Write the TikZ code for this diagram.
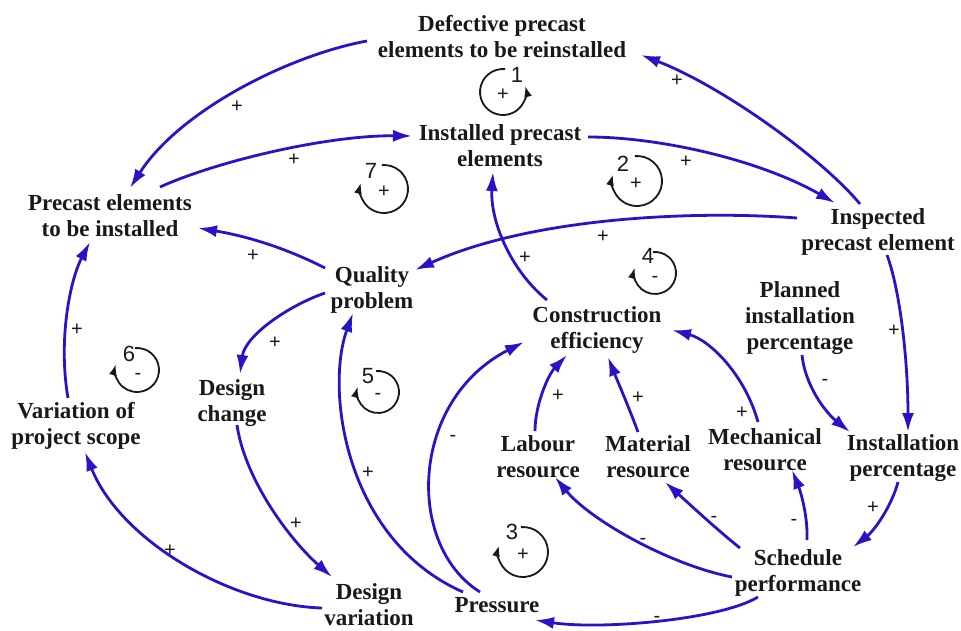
\documentclass[tikz,border=0pt]{standalone}
\usepackage{fontspec}
\setmainfont{Liberation Serif}
\newfontfamily\sgnfont{Liberation Sans}
\usetikzlibrary{arrows.meta}
\definecolor{lblue}{RGB}{40,20,200}
\definecolor{ink}{RGB}{25,25,25}
\begin{document}
\begin{tikzpicture}[x=1pt,y=-1pt,
 var/.style={font=\bfseries\fontsize{23}{26}\selectfont, align=center, inner sep=1pt, text=ink},
 lk/.style={draw=lblue, line width=2.8pt, -{Latex[length=19pt,width=12pt]}},
 sg/.style={font=\sgnfont\fontsize{20}{20}\selectfont, inner sep=0pt, text=ink},
 lp/.style={draw=ink, line width=1.8pt, -{Latex[length=11pt,width=8pt]}},
 lnum/.style={font=\sgnfont\fontsize{22}{22}\selectfont, inner sep=0pt, text=ink}]
\useasboundingbox[fill=white] (0,0) rectangle (961,630);

% variables
\node[var] (def)  at (502,37)  {Defective precast\\elements to be reinstalled};
\node[var] (inst) at (500,146) {Installed precast\\elements};
\node[var] (pre)  at (110,216) {Precast elements\\to be installed};
\node[var] (insp) at (878,232) {Inspected\\precast element};
\node[var] (qual) at (372,290) {Quality\\problem};
\node[var] (cons) at (597,330) {Construction\\efficiency};
\node[var] (plan) at (800,318) {Planned\\installation\\percentage};
\node[var] (dch)  at (232,403) {Design\\change};
\node[var] (vps)  at (76,426)  {Variation of\\project scope};
\node[var] (lab)  at (538,457) {Labour\\resource};
\node[var] (mat)  at (648,457) {Material\\resource};
\node[var] (mech) at (765,450) {Mechanical\\resource};
\node[var] (ip)   at (903,458) {Installation\\percentage};
\node[var] (sch)  at (798,573) {Schedule\\performance};
\node[var] (pres) at (497,605) {Pressure};
\node[var] (dvar) at (369,605) {Design\\variation};

% links
\draw[lk] ([shift={(-18,-28)}]insp.center) .. controls (822,158) and (722,86) .. ([shift={(139,18)}]def.center);
\draw[lk] ([shift={(-135,4)}]def.center) .. controls (290,55) and (180,110) .. ([shift={(20,-28)}]pre.center);
\draw[lk] ([shift={(50,-29)}]pre.center) .. controls (220,160) and (330,135) .. ([shift={(-88,-10)}]inst.center);
\draw[lk] ([shift={(88,-9)}]inst.center) .. controls (660,137) and (760,160) .. ([shift={(-43,-29)}]insp.center);
\draw[lk] ([shift={(-81,-14)}]insp.center) .. controls (690,210) and (530,218) .. ([shift={(43,-20)}]qual.center);
\draw[lk] ([shift={(-50,-30)}]cons.center) .. controls (510,270) and (490,220) .. ([shift={(-7,26)}]inst.center);
\draw[lk] ([shift={(-47,-22)}]qual.center) .. controls (280,245) and (240,235) .. ([shift={(88,12)}]pre.center);
\draw[lk] ([shift={(-47,3)}]qual.center) .. controls (290,305) and (245,335) .. ([shift={(8,-29)}]dch.center);
\draw[lk] ([shift={(5,22)}]dch.center) .. controls (245,480) and (290,540) .. ([shift={(-37,-28)}]dvar.center);
\draw[lk] ([shift={(-47,3)}]dvar.center) .. controls (230,605) and (120,540) .. ([shift={(9,26)}]vps.center);
\draw[lk] ([shift={(-8,-28)}]vps.center) .. controls (58,340) and (70,280) .. ([shift={(-20,26)}]pre.center);
\draw[lk] ([shift={(-34,-13)}]pres.center) .. controls (345,540) and (325,390) .. ([shift={(-19,23)}]qual.center);
\draw[lk] ([shift={(-17,-13)}]pres.center) .. controls (405,545) and (410,400) .. ([shift={(-73,12)}]cons.center);
\draw[lk] ([shift={(-3,-26)}]lab.center) .. controls (535,405) and (548,375) .. ([shift={(-30,25)}]cons.center);
\draw[lk] ([shift={(-10,-25)}]mat.center) .. controls (628,405) and (615,375) .. ([shift={(11,27)}]cons.center);
\draw[lk] ([shift={(-7,-28)}]mech.center) .. controls (745,375) and (710,340) .. ([shift={(75,0)}]cons.center);
\draw[lk] ([shift={(2,37)}]plan.center) .. controls (805,385) and (825,412) .. ([shift={(-53,-26)}]ip.center);
\draw[lk] ([shift={(9,23)}]insp.center) .. controls (900,290) and (908,360) .. ([shift={(5,-26)}]ip.center);
\draw[lk] ([shift={(-5,24)}]ip.center) .. controls (892,505) and (875,530) .. ([shift={(55,-26)}]sch.center);
\draw[lk] ([shift={(9,-33)}]sch.center) .. controls (808,515) and (800,490) .. ([shift={(27,20)}]mech.center);
\draw[lk] ([shift={(-58,-25)}]sch.center) .. controls (715,528) and (685,500) .. ([shift={(17,25)}]mat.center);
\draw[lk] ([shift={(-66,4)}]sch.center) .. controls (670,565) and (590,520) .. ([shift={(17,20)}]lab.center);
\draw[lk] ([shift={(-40,24)}]sch.center) .. controls (720,620) and (600,630) .. ([shift={(38,15)}]pres.center);

% polarities
\node[sg] (p1)  at (677,81)  {+};
\node[sg] (p2)  at (237,107) {+};
\node[sg] (p3)  at (294,160) {+};
\node[sg] (p4)  at (686,162) {+};
\node[sg] (p5)  at (603,237) {+};
\node[sg] (p6)  at (525,258) {+};
\node[sg] (p7)  at (253,256) {+};
\node[sg] (p8)  at (275,343) {+};
\node[sg] (p9)  at (296,524) {+};
\node[sg] (p10) at (170,551) {+};
\node[sg] (p11) at (77,330)  {+};
\node[sg] (p12) at (368,473) {+};
\node[sg] (p13) at (453,438) {-};
\node[sg] (p14) at (558,396) {+};
\node[sg] (p15) at (638,398) {+};
\node[sg] (p16) at (742,413) {+};
\node[sg] (p17) at (825,382) {-};
\node[sg] (p18) at (894,331) {+};
\node[sg] (p19) at (873,508) {+};
\node[sg] (p20) at (794,522) {-};
\node[sg] (p21) at (714,519) {-};
\node[sg] (p22) at (643,541) {-};
\node[sg] (p23) at (657,619) {-};

% loop markers (clockwise: number top-left, arrow on the left)
\draw[lp] ([shift={(-95:24)}]384,189) arc[start angle=-95, end angle=195, radius=24];
\node[lnum] (l7) at (371,171) {7};  \node[sg] (l7s) at (384,192) {+};
\draw[lp] ([shift={(-95:25)}]637,181) arc[start angle=-95, end angle=195, radius=25];
\node[lnum] (l2) at (623,164) {2};  \node[sg] (l2s) at (636,184) {+};
\draw[lp] ([shift={(-95:21)}]655,273) arc[start angle=-95, end angle=195, radius=21];
\node[lnum] (l4) at (648,256) {4};  \node[sg] (l4s) at (655,279) {-};
\draw[lp] ([shift={(-95:21)}]378,392) arc[start angle=-95, end angle=195, radius=21];
\node[lnum] (l5) at (368,376) {5};  \node[sg] (l5s) at (378,396) {-};
\draw[lp] ([shift={(-95:22)}]137,370) arc[start angle=-95, end angle=195, radius=22];
\node[lnum] (l6) at (129,354) {6};  \node[sg] (l6s) at (138,376) {-};
\draw[lp] ([shift={(-95:25)}]523,552) arc[start angle=-95, end angle=195, radius=25];
\node[lnum] (l3) at (512,532) {3};  \node[sg] (l3s) at (523,555) {+};
% loop 1 (counter-clockwise: number top-right, arrow on the right)
\draw[lp] ([shift={(-85:23)}]503,92) arc[start angle=-85, end angle=-375, radius=23];
\node[lnum] (l1) at (517,75) {1};  \node[sg] (l1s) at (503,95) {+};
\end{tikzpicture}
\end{document}
